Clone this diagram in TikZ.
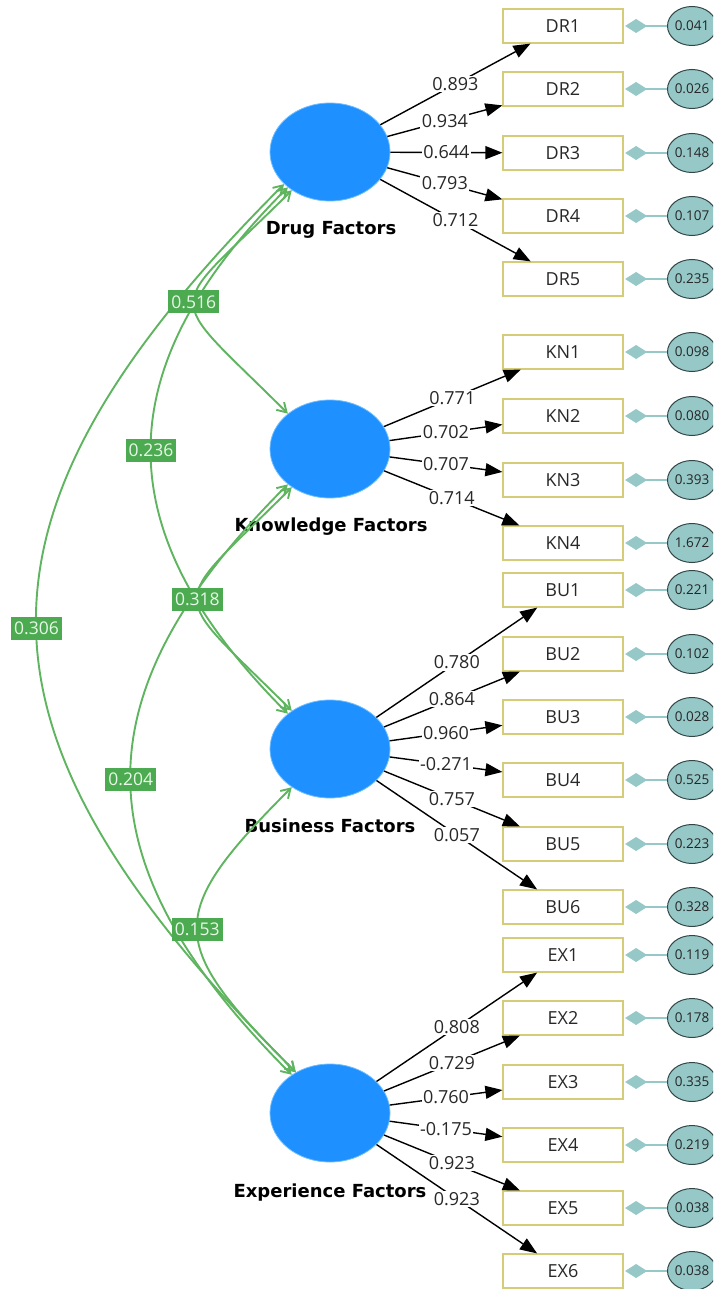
\documentclass[tikz,border=0pt]{standalone}
\usepackage{fontspec}
\setmainfont{Open Sans}
\newfontfamily\latfont{DejaVu Sans}
\usetikzlibrary{shapes.geometric,arrows.meta}

\definecolor{latblue}{RGB}{30,144,255}
\definecolor{latedge}{RGB}{110,190,255}
\definecolor{boxedge}{RGB}{212,204,120}
\definecolor{errfill}{RGB}{150,200,200}
\definecolor{erredge}{RGB}{50,70,70}
\definecolor{errline}{RGB}{150,200,200}
\definecolor{covgreen}{RGB}{95,180,95}
\definecolor{covfill}{RGB}{76,170,80}
\definecolor{covtext}{RGB}{232,248,232}
\definecolor{numgray}{RGB}{40,40,40}

\tikzset{
  latent/.style={ellipse, fill=latblue, draw=latedge, line width=0.8pt,
    minimum width=120pt, minimum height=98pt, inner sep=0pt},
  latname/.style={font=\latfont\bfseries\fontsize{18}{20}\selectfont, text=black},
  indicator/.style={rectangle, draw=boxedge, line width=1.2pt, fill=white,
    minimum width=120pt, minimum height=34pt, inner sep=0pt,
    font=\fontsize{18}{20}\selectfont, text=numgray},
  errvar/.style={ellipse, fill=errfill, draw=erredge, line width=1pt,
    minimum width=49pt, minimum height=39pt, inner sep=0pt,
    font=\fontsize{13.5}{15}\selectfont, text=black!85},
  loading/.style={draw=black, line width=1.4pt, -{Triangle[length=17pt,width=13pt]}},
  loadlbl/.style={fill=white, inner sep=1.5pt, font=\fontsize{18}{20}\selectfont, text=numgray},
  residual/.style={draw=errline, line width=1.4pt, -{Diamond[length=22pt,width=14pt]}, shorten >=1.5pt},
  cov/.style={draw=covgreen, line width=1.9pt,
    {Straight Barb[length=9pt,width=11pt]}-{Straight Barb[length=9pt,width=11pt]}},
  covlbl/.style={fill=covfill, text=covtext, inner xsep=3pt, inner ysep=2pt,
    minimum height=23pt, font=\fontsize{17.5}{20}\selectfont},
}

\begin{document}
\begin{tikzpicture}[x=1pt,y=1pt]
  \useasboundingbox (0,0) rectangle (713,-1289);
  \clip (0,0) rectangle (713,-1289);

  % latent constructs
  \node[latent] (D) at (330,-152) {};
  \node[latent] (K) at (330,-449) {};
  \node[latent] (B) at (330,-749) {};
  \node[latent] (E) at (330,-1113) {};
  \node[latname] (Dname) at (331,-230) {Drug Factors};
  \node[latname] (Kname) at (331,-527) {Knowledge Factors};
  \node[latname] (Bname) at (330,-826) {Business Factors};
  \node[latname] (Ename) at (330,-1193) {Experience Factors};

  % indicators with their error variances
  \foreach \n/\y/\v in {DR1/26/0.041, DR2/89/0.026, DR3/153/0.148, DR4/216/0.107, DR5/279/0.235,
                        KN1/352/0.098, KN2/416/0.080, KN3/480/0.393, KN4/543/1.672,
                        BU1/590/0.221, BU2/654/0.102, BU3/717/0.028, BU4/780/0.525, BU5/844/0.223, BU6/907/0.328,
                        EX1/955/0.119, EX2/1018/0.178, EX3/1082/0.335, EX4/1145/0.219, EX5/1208/0.038, EX6/1271/0.038}{
    \node[indicator] (\n) at (563,-\y) {\n};
    \node[errvar] (e\n) at (692,-\y) {\v};
    \draw[residual] (e\n) -- (\n);
  }

  % outer loadings
  \foreach \l/\i/\w in {D/DR1/0.893, D/DR2/0.934, D/DR3/0.644, D/DR4/0.793, D/DR5/0.712,
                        K/KN1/0.771, K/KN2/0.702, K/KN3/0.707, K/KN4/0.714,
                        B/BU1/0.780, B/BU2/0.864, B/BU3/0.960, B/BU4/-0.271, B/BU5/0.757, B/BU6/0.057,
                        E/EX1/0.808, E/EX2/0.729, E/EX3/0.760, E/EX4/-0.175, E/EX5/0.923, E/EX6/0.923}{
    \draw[loading] (\l) -- node[loadlbl]{\w} (\i);
  }

  % construct correlations
  \draw[cov] (D.-135) .. controls +(225:181) and +(135:181) .. coordinate[pos=0.5] (mDK) (K.140);
  \draw[cov] (D.-140) .. controls +(225:258) and +(135:258) .. coordinate[pos=0.5] (mDB) (B.140);
  \draw[cov] (D.-145) .. controls +(225:478) and +(135:478) .. coordinate[pos=0.5] (mDE) (E.130);
  \draw[cov] (K.-135) .. controls +(225:178) and +(135:178) .. coordinate[pos=0.5] (mKB) (B.135);
  \draw[cov] (K.-140) .. controls +(225:300) and +(135:300) .. coordinate[pos=0.5] (mKE) (E.135);
  \draw[cov] (B.-135) .. controls +(225:182) and +(135:182) .. coordinate[pos=0.5] (mBE) (E.130);

  \node[covlbl] (lDK) at (mDK) {0.516};
  \node[covlbl] (lDB) at (mDB) {0.236};
  \node[covlbl] (lDE) at (mDE) {0.306};
  \node[covlbl] (lKB) at (mKB) {0.318};
  \node[covlbl] (lKE) at (mKE) {0.204};
  \node[covlbl] (lBE) at (mBE) {0.153};
\end{tikzpicture}
\end{document}
